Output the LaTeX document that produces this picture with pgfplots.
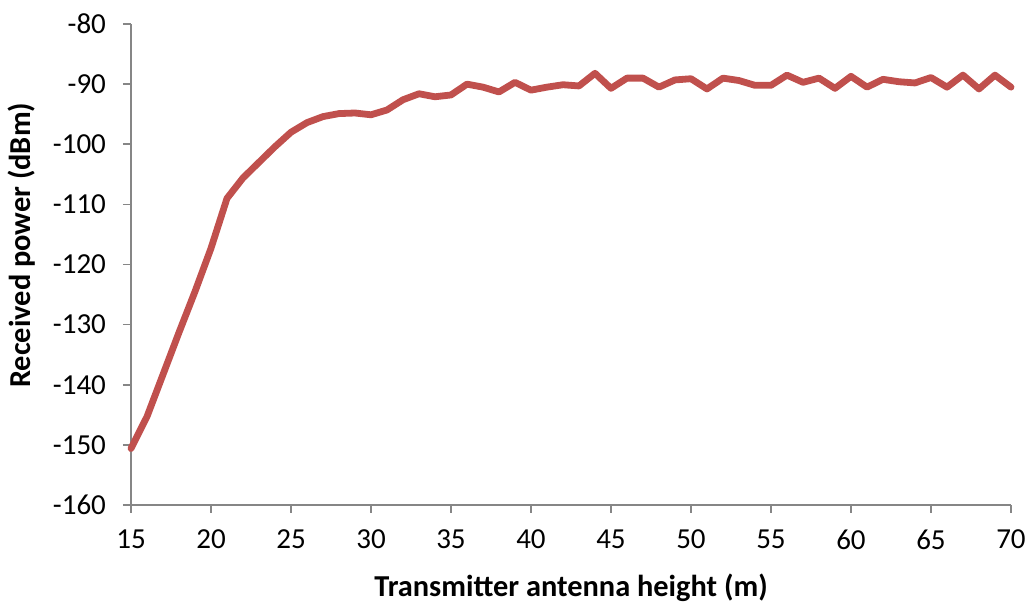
\documentclass[border=0pt]{standalone}
\usepackage{pgfplots}
\pgfplotsset{compat=1.18}
\usepackage{fontspec}
\setmainfont{Carlito}
\definecolor{exred}{RGB}{192,80,77}
\definecolor{axgray}{RGB}{134,134,134}
\pgfplotstableread{
x y
15 -150.6
16 -145.3
17 -138.3
18 -131.3
19 -124.5
20 -117.3
21 -109.0
22 -105.6
23 -103.0
24 -100.4
25 -98.0
26 -96.4
27 -95.4
28 -94.9
29 -94.8
30 -95.1
31 -94.3
32 -92.6
33 -91.6
34 -92.1
35 -91.8
36 -90.0
37 -90.5
38 -91.3
39 -89.7
40 -91.0
41 -90.5
42 -90.1
43 -90.3
44 -88.2
45 -90.7
46 -89.0
47 -89.0
48 -90.5
49 -89.3
50 -89.1
51 -90.8
52 -89.0
53 -89.4
54 -90.2
55 -90.2
56 -88.5
57 -89.7
58 -89.0
59 -90.7
60 -88.7
61 -90.5
62 -89.2
63 -89.6
64 -89.8
65 -88.9
66 -90.5
67 -88.5
68 -90.8
69 -88.5
70 -90.5
}\datatable
\begin{document}
\begin{tikzpicture}
\useasboundingbox (-65.5pt,-50pt) rectangle (449.5pt,252.5pt);
\begin{axis}[
  at={(0pt,0pt)}, anchor=south west,
  scale only axis, width=440pt, height=240.5pt,
  xmin=15, xmax=70, ymin=-160, ymax=-80,
  xtick={15,20,...,70}, ytick={-160,-150,...,-80},
  axis x line=bottom, axis y line=left,
  axis line style={-, axgray, line width=0.8pt},
  tick style={axgray, line width=0.8pt},
  tick align=outside, major tick length=4pt,
  xtick pos=bottom, ytick pos=left,
  /pgf/number format/assume math mode=true,
  ticklabel style={font=\fontsize{14.5}{17}\selectfont, text=black},
  xticklabel style={yshift=-5pt},
  yticklabel style={xshift=-5pt},
  xlabel={Transmitter antenna height (m)},
  ylabel={Received power (dBm)},
  label style={font=\fontsize{15.2}{18}\selectfont\bfseries},
  xlabel style={at={(axis description cs:0.5,0)}, anchor=center, yshift=-41.5pt},
  ylabel style={at={(axis description cs:-0.1239,0.54)}, anchor=center},
  clip=false,
]
\addplot[exred, line width=3.4pt, line join=round, line cap=round] table[x=x,y=y] {\datatable};
\end{axis}
\end{tikzpicture}
\end{document}
